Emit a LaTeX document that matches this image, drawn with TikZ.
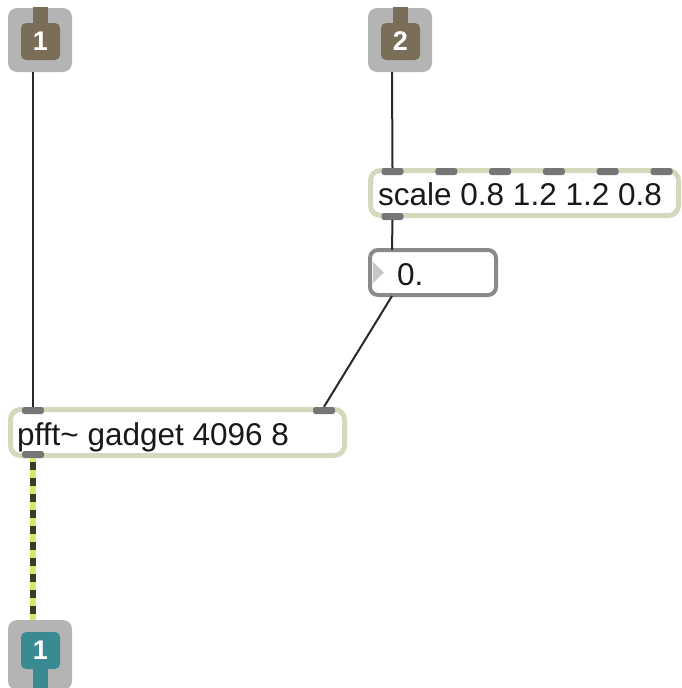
\documentclass[tikz,border=0pt]{standalone}
\usepackage{fontspec}
\setmainfont{Liberation Sans}
\definecolor{portgray}{RGB}{180,180,180}
\definecolor{inbrown}{RGB}{122,110,88}
\definecolor{outteal}{RGB}{58,138,148}
\definecolor{objframe}{RGB}{214,216,190}
\definecolor{tabgray}{RGB}{118,118,118}
\definecolor{numframe}{RGB}{138,138,138}
\definecolor{cordcol}{RGB}{40,40,40}
\definecolor{sigyellow}{RGB}{214,232,110}
\definecolor{sigdark}{RGB}{52,62,36}
\begin{document}
\begin{tikzpicture}[x=1pt,y=-1pt,
  portbox/.style={fill=portgray, rounded corners=9pt, minimum width=64pt, minimum height=64pt, inner sep=0pt},
  portcore/.style={rounded corners=5pt, minimum width=39pt, minimum height=37pt, inner sep=0pt},
  portnum/.style={text=white, font=\fontsize{27}{27}\selectfont\bfseries},
  objbox/.style={draw=objframe, line width=5pt, fill=white, rounded corners=10pt, inner sep=0pt},
  numbox/.style={draw=numframe, line width=4pt, fill=white, rounded corners=8pt, inner sep=0pt},
  porttab/.style={fill=tabgray, rounded corners=2.5pt, minimum width=22pt, minimum height=7pt, inner sep=0pt},
  boxtext/.style={anchor=base west, inner sep=0pt, font=\fontsize{31.5}{32}\selectfont, text=black!90},
  patchcord/.style={draw=cordcol, line width=2pt},
]
\useasboundingbox (0,0) rectangle (682,688);

% inlet 1
\node[portbox] (in1) at (40,40) {};
\fill[inbrown] (33,7) rectangle (48,26);
\node[portcore, fill=inbrown] (in1core) at (40.5,41.5) {};
\node[portnum] at (in1core) {1};
\coordinate (in1out) at (33,72);

% inlet 2
\node[portbox] (in2) at (400,40) {};
\fill[inbrown] (393,7) rectangle (408,26);
\node[portcore, fill=inbrown] (in2core) at (400.5,41.5) {};
\node[portnum] at (in2core) {2};
\coordinate (in2out) at (392,72);

% outlet 1
\node[portbox, minimum height=70pt] (out1) at (40,655) {};
\fill[outteal] (33,660) rectangle (48,688);
\node[portcore, fill=outteal] (out1core) at (40.5,650.5) {};
\node[portnum] at (out1core) {1};
\coordinate (out1in) at (33,620);

% scale object
\node[objbox, minimum width=308pt, minimum height=45pt] (scale) at (524.5,193) {};
\node[boxtext] (scaletxt) at (378,205) {scale 0.8 1.2 1.2 0.8};
\foreach \i in {0,...,5}
  \node[porttab] (scalein\i) at ({392.5+53.8*\i},171.5) {};
\node[porttab] (scaleout) at (392.5,216.5) {};

% number box
\node[numbox, minimum width=126pt, minimum height=45pt] (num) at (433,272.5) {};
\fill[black!22] (373,262) -- (384,272.5) -- (373,283) -- cycle;
\node[boxtext] (numtxt) at (397,285) {0.};
\coordinate (numin) at (392,250);
\coordinate (numout) at (392,296);

% pfft~ object
\node[objbox, minimum width=334pt, minimum height=46pt] (pfft) at (177.5,432.5) {};
\node[boxtext] (pffttxt) at (17,445) {pfft\char`~\ gadget 4096 8};
\node[porttab] (pfftinL) at (33,410.5) {};
\node[porttab] (pfftinR) at (324,410.5) {};
\node[porttab] (pfftout) at (33,454.5) {};

% patch cords
\draw[patchcord] (in1out) -- (pfftinL.north);
\draw[patchcord] (in2out) -- (scalein0.north);
\draw[patchcord] (scaleout.south) -- (numin);
\draw[patchcord] (numout) -- (pfftinR.north);

% signal cord
\draw[sigyellow, line width=6pt] (pfftout.south) -- (out1in);
\draw[sigdark, line width=6pt, dash pattern=on 8pt off 8pt, dash phase=-4pt] (pfftout.south) -- (out1in);
\end{tikzpicture}
\end{document}
